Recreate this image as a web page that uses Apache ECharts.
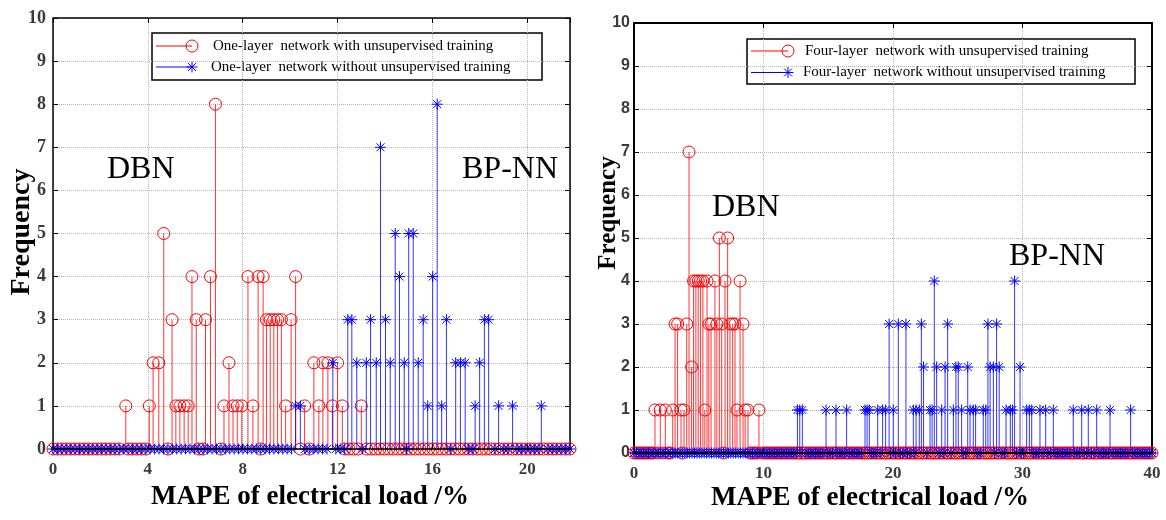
<!DOCTYPE html>
<html>
<head>
<meta charset="utf-8">
<script src="https://cdn.jsdelivr.net/npm/echarts@6/dist/echarts.min.js"></script>
<style>
  html, body { margin: 0; padding: 0; background: #fff; }
  #chart { width: 1166px; height: 520px; }
</style>
</head>
<body>
<div id="chart"></div>
<script>
// ---- Histogram data: [MAPE %, frequency] for every non-empty bin ----
// One-layer networks
const oneLayerWithPretrain = [
  [3.07,1],[4.06,1],[4.22,2],[4.46,2],[4.67,5],[5.02,3],[5.18,1],[5.35,1],[5.53,1],[5.70,1],
  [5.86,4],[6.04,3],[6.43,3],[6.64,4],[6.85,8],[7.21,1],[7.42,2],[7.59,1],[7.77,1],[7.96,1],
  [8.22,4],[8.43,1],[8.65,4],[8.86,4],[9.00,3],[9.16,3],[9.31,3],[9.47,3],[9.63,3],[9.81,1],
  [10.04,3],[10.23,4],[10.61,1],[11.00,2],[11.21,1],[11.38,2],[11.59,2],[11.78,1],[12.00,2],
  [12.20,1],[13.00,1]
];
const oneLayerWithoutPretrain = [
  [10.23,1],[10.43,1],[11.80,2],[12.43,3],[12.60,3],[12.81,2],[13.21,2],[13.39,3],[13.63,2],
  [13.81,7],[14.02,3],[14.22,2],[14.43,5],[14.61,4],[14.81,2],[15.00,5],[15.19,5],[15.40,2],
  [15.61,3],[15.80,1],[16.01,4],[16.20,8],[16.39,1],[16.59,3],[16.98,2],[17.18,2],[17.38,2],
  [17.80,1],[17.99,2],[18.19,3],[18.37,3],[18.79,1],[19.38,1],[20.59,1]
];
// Four-layer networks
const fourLayerWithPretrain = [
  [1.62,1],[2.03,1],[2.42,1],[2.99,1],[3.17,3],[3.37,3],[3.63,1],[3.86,1],[4.07,3],[4.25,7],
  [4.45,2],[4.60,4],[4.78,4],[4.96,4],[5.14,4],[5.32,4],[5.47,1],[5.64,4],[5.78,3],[5.95,3],
  [6.25,4],[6.40,3],[6.59,5],[6.77,3],[7.03,4],[7.23,5],[7.41,3],[7.62,3],[7.80,3],[7.95,1],
  [8.19,4],[8.42,3],[8.58,1],[8.80,1],[9.65,1]
];
const fourLayerWithoutPretrain = [
  [12.62,1],[12.80,1],[13.00,1],[14.83,1],[15.60,1],[16.42,1],[17.84,1],[18.00,1],[18.17,1],
  [18.82,1],[19.20,1],[19.43,1],[19.70,3],[20.02,1],[20.41,3],[21.00,3],[21.57,1],[21.78,1],
  [22.03,1],[22.19,3],[22.36,2],[22.86,1],[23.02,1],[23.19,4],[23.37,2],[23.76,1],[24.02,2],
  [24.22,3],[24.66,1],[24.86,2],[25.04,2],[25.30,1],[25.77,2],[25.95,1],[26.20,1],[26.38,1],
  [26.97,1],[27.16,1],[27.33,3],[27.50,2],[27.75,2],[28.00,3],[28.20,2],[28.73,1],[29.06,1],
  [29.22,1],[29.39,4],[29.81,2],[30.32,1],[30.53,1],[30.71,1],[31.35,1],[31.79,1],[32.38,1],
  [33.92,1],[34.57,1],[35.08,1],[35.73,1],[36.76,1],[38.35,1]
];

// Bin layout of each histogram (range of MAPE and number of bins)
const oneLayerRange = 21.8, oneLayerBins = 117;
const fourLayerRange = 40, fourLayerBins = 214;

// Axis ticks
const oneLayerXTicks = 4, fourLayerXTicks = 10;
const freqMax = 10, freqStep = 1;

// Legend / annotation texts
const legendOne = ['One-layer  network with unsupervised training', 'One-layer  network without unsupervised training'];
const legendFour = ['Four-layer  network with unsupervised training', 'Four-layer  network without unsupervised training'];
const xName = 'MAPE of electrical load /%';
const yName = 'Frequency';

const SERIF = '"Liberation Serif","Times New Roman",serif';
const SANS = '"Liberation Sans",Arial,sans-serif';
const RED = '#ff0000', BLUE = '#0000ff';

// Empty bins are drawn as markers on the baseline (stem plot of a histogram)
function withEmptyBins(stems, range, bins) {
  const w = range / bins;
  const out = stems.slice();
  for (let i = 0; i <= bins; i++) {
    const x = i * w;
    if (!stems.some(s => Math.abs(s[0] - x) < w * 0.5)) out.push([x, 0]);
  }
  return out.sort((a, b) => a[0] - b[0]);
}

function markerShape(kind, cx, cy, color) {
  if (kind === 'circle') {
    return { type: 'circle', shape: { cx, cy, r: 6 }, style: { fill: 'none', stroke: color, lineWidth: 1 } };
  }
  const r = 5.5, d = r * 0.72;
  const seg = (x1, y1, x2, y2) => ({ type: 'line', shape: { x1: cx + x1, y1: cy + y1, x2: cx + x2, y2: cy + y2 }, style: { stroke: color, lineWidth: 1 } });
  return { type: 'group', children: [seg(-r, 0, r, 0), seg(0, -r, 0, r), seg(-d, -d, d, d), seg(-d, d, d, -d)] };
}

function stemSeries(name, data, axisIdx, kind, color, stemColor) {
  return {
    type: 'custom', name, data,
    xAxisIndex: axisIdx, yAxisIndex: axisIdx,
    clip: false, z: 2, silent: true,
    encode: { x: 0, y: 1 },
    renderItem(params, api) {
      const x = api.value(0), y = api.value(1);
      const top = api.coord([x, y]);
      const base = api.coord([x, 0]);
      const children = [];
      if (y > 0) {
        children.push({ type: 'line', shape: { x1: base[0], y1: base[1], x2: top[0], y2: top[1] },
                        style: { stroke: stemColor, lineWidth: 1 } });
      }
      children.push(markerShape(kind, top[0], top[1], color));
      return { type: 'group', children };
    }
  };
}

function xAxes(grid, max, step, lineW, font) {
  return [
    { gridIndex: grid, type: 'value', min: 0, max, interval: step, position: 'bottom', z: 3,
      axisLine: { onZero: false, lineStyle: { color: '#000', width: lineW } },
      axisTick: { inside: true, length: 5, lineStyle: { color: '#000' } },
      axisLabel: { margin: 12, fontFamily: font, fontWeight: 'bold', fontSize: 17, color: '#3a3a3a', showMaxLabel: max % step === 0 },
      splitLine: { show: false } },
    { gridIndex: grid, type: 'value', min: 0, max, interval: step, position: 'top', z: 0,
      axisLine: { onZero: false, lineStyle: { color: '#000', width: lineW } },
      axisTick: { inside: true, length: 5, lineStyle: { color: '#000' } },
      axisLabel: { show: false },
      splitLine: { show: true, lineStyle: { type: 'dotted', color: '#b4b4b4', width: 1 } } }
  ];
}

function yAxes(grid, lineW, font, size, margin) {
  return [
    { gridIndex: grid, type: 'value', min: 0, max: freqMax, interval: freqStep, position: 'left', z: 0,
      axisLine: { onZero: false, lineStyle: { color: '#000', width: lineW } },
      axisTick: { inside: true, length: 5, lineStyle: { color: '#000' } },
      axisLabel: { margin, fontFamily: font, fontWeight: 'bold', fontSize: size, color: '#3a3a3a' },
      splitLine: { show: true, lineStyle: { type: 'dotted', color: '#b4b4b4', width: 1 } } },
    { gridIndex: grid, type: 'value', min: 0, max: freqMax, interval: freqStep, position: 'right', z: 0,
      axisLine: { onZero: false, lineStyle: { color: '#000', width: lineW } },
      axisTick: { inside: true, length: 5, lineStyle: { color: '#000' } },
      axisLabel: { show: false },
      splitLine: { show: false } }
  ];
}

function legendBox(x, y, w, h, rows, lineStart, lineEnd, textX) {
  const items = [
    { type: 'rect', shape: { x, y, width: w, height: h }, style: { fill: '#fff', stroke: '#000', lineWidth: 1.5 } }
  ];
  const kinds = [['circle', RED], ['star', BLUE]];
  rows.forEach((r, i) => {
    const [kind, color] = kinds[i];
    items.push({ type: 'line', shape: { x1: lineStart, y1: r.y, x2: lineEnd, y2: r.y }, style: { stroke: color, lineWidth: 1 } });
    items.push(markerShape(kind, lineEnd, r.y, color));
    items.push({ type: 'text', x: textX[i], y: r.y,
                 style: { text: r.text, font: '15px ' + SERIF, fill: '#000', align: 'left', verticalAlign: 'middle' } });
  });
  return { type: 'group', z: 10, children: items };
}

function label(text, x, y, font, opts) {
  return Object.assign({ type: 'text', x, y, z: 10,
    style: { text, font, fill: '#000', align: 'center', verticalAlign: 'middle' } }, opts || {});
}

const chart = echarts.init(document.getElementById('chart'), null, { renderer: 'canvas' });

chart.setOption({
  animation: false,
  backgroundColor: '#fff',
  grid: [
    { left: 53, right: 596, top: 18, bottom: 71 },
    { left: 634, right: 14, top: 23, bottom: 67 }
  ],
  xAxis: [
    ...xAxes(0, oneLayerRange, oneLayerXTicks, 1.5, SERIF),
    ...xAxes(1, fourLayerRange, fourLayerXTicks, 2, SERIF)
  ],
  yAxis: [
    ...yAxes(0, 1.5, SERIF, 18, 7),
    ...yAxes(1, 2, SANS, 16, 4)
  ],
  series: [
    stemSeries('One-layer with', withEmptyBins(oneLayerWithPretrain, oneLayerRange, oneLayerBins), 0, 'circle', RED, 'rgba(255,0,0,0.8)'),
    stemSeries('One-layer without', withEmptyBins(oneLayerWithoutPretrain, oneLayerRange, oneLayerBins), 0, 'star', BLUE, 'rgba(0,0,255,0.8)'),
    stemSeries('Four-layer with', withEmptyBins(fourLayerWithPretrain, fourLayerRange, fourLayerBins), 2, 'circle', RED, 'rgba(255,0,0,0.8)'),
    stemSeries('Four-layer without', withEmptyBins(fourLayerWithoutPretrain, fourLayerRange, fourLayerBins), 2, 'star', BLUE, 'rgba(0,0,255,0.8)')
  ],
  graphic: [
    legendBox(152, 33, 390, 47, [{ y: 46, text: legendOne[0] }, { y: 67, text: legendOne[1] }], 156, 192, [213, 211]),
    legendBox(747, 39, 388, 45, [{ y: 51, text: legendFour[0] }, { y: 72.5, text: legendFour[1] }], 751, 788, [805, 803]),
    { type: 'text', x: 107, y: 170, z: 10, style: { text: 'DBN', font: '32px ' + SERIF, fill: '#000', align: 'left', verticalAlign: 'middle' } },
    { type: 'text', x: 462, y: 170, z: 10, style: { text: 'BP-NN', font: '32px ' + SERIF, fill: '#000', align: 'left', verticalAlign: 'middle' } },
    { type: 'text', x: 712, y: 208, z: 10, style: { text: 'DBN', font: '32px ' + SERIF, fill: '#000', align: 'left', verticalAlign: 'middle' } },
    { type: 'text', x: 1009, y: 257, z: 10, style: { text: 'BP-NN', font: '32px ' + SERIF, fill: '#000', align: 'left', verticalAlign: 'middle' } },
    label(yName, 22, 232, 'bold 28px ' + SERIF, { rotation: Math.PI / 2 }),
    label(yName, 609, 213, 'bold 25px ' + SERIF, { rotation: Math.PI / 2 }),
    label(xName, 310, 497, 'bold 27px ' + SERIF),
    label(xName, 870, 498, 'bold 27px ' + SERIF)
  ]
});
</script>
</body>
</html>
